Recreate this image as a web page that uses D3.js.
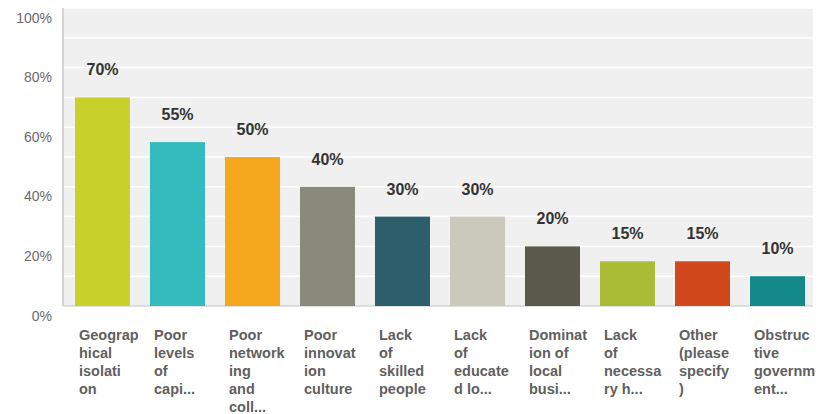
<!DOCTYPE html>
<html>
<head>
<meta charset="utf-8">
<script src="https://cdn.jsdelivr.net/npm/d3@7"></script>
<style>
  html, body { margin: 0; padding: 0; background: #ffffff; }
  svg { display: block; }
</style>
</head>
<body>
<svg id="chart" width="819" height="414"></svg>
<script>
// Survey answers: share of respondents per obstacle
const categories = [
  ["Geograp", "hical", "isolati", "on"],
  ["Poor", "levels", "of", "capi..."],
  ["Poor", "network", "ing", "and", "coll..."],
  ["Poor", "innovat", "ion", "culture"],
  ["Lack", "of", "skilled", "people"],
  ["Lack", "of", "educate", "d lo..."],
  ["Dominat", "ion of", "local", "busi..."],
  ["Lack", "of", "necessa", "ry h..."],
  ["Other", "(please", "specify", ")"],
  ["Obstruc", "tive", "governm", "ent..."]
];
const values = [70, 55, 50, 40, 30, 30, 20, 15, 15, 10];
const barColors = ["#c8d12b", "#34bbbd", "#f5a81e", "#8a8a7b", "#2d5e6c",
                   "#cbc9ba", "#5a594b", "#aabb35", "#d0481b", "#13898b"];
const yTicks = [0, 20, 40, 60, 80, 100];
const gridTicks = [10, 20, 30, 40, 50, 60, 70, 80, 90, 100];

const svg = d3.select("#chart");
const plot = { left: 63, right: 813, top: 8, bottom: 306 };

const x = d3.scaleBand()
  .domain(d3.range(values.length))
  .range([65, 815])
  .paddingInner(20 / 75)
  .paddingOuter(10 / 75);

const y = d3.scaleLinear().domain([0, 100]).range([plot.bottom, plot.top]);

// plot background
svg.append("rect")
  .attr("x", plot.left).attr("y", plot.top)
  .attr("width", plot.right - plot.left).attr("height", plot.bottom - plot.top)
  .attr("fill", "#f0f0f0");

// white gridlines every 10%
svg.append("g").selectAll("line").data(gridTicks).join("line")
  .attr("x1", plot.left).attr("x2", plot.right)
  .attr("y1", d => y(d)).attr("y2", d => y(d))
  .attr("stroke", "#ffffff").attr("stroke-width", 1.5);

// y axis labels
const yAxis = d3.axisLeft(y).tickValues(yTicks).tickFormat(d => d + "%").tickSize(0).tickPadding(11);
const yg = svg.append("g").attr("transform", `translate(${plot.left},0)`).call(yAxis);
yg.select(".domain").remove();
yg.selectAll("text")
  .attr("dy", "1.0em")
  .attr("font-family", "'Liberation Sans', Arial, sans-serif")
  .attr("font-size", 14)
  .attr("fill", "#6a6a6a");

// axis lines
svg.append("line")
  .attr("x1", plot.left).attr("x2", plot.left)
  .attr("y1", plot.top).attr("y2", plot.bottom)
  .attr("stroke", "#d4d4d4").attr("stroke-width", 2);
svg.append("line")
  .attr("x1", plot.left).attr("x2", plot.right)
  .attr("y1", plot.bottom).attr("y2", plot.bottom)
  .attr("stroke", "#d4d4d4").attr("stroke-width", 1.5);

// bars
svg.append("g").selectAll("rect").data(values).join("rect")
  .attr("x", (d, i) => x(i))
  .attr("y", d => y(d))
  .attr("width", x.bandwidth())
  .attr("height", d => y(0) - y(d))
  .attr("fill", (d, i) => barColors[i]);

// value labels
svg.append("g").selectAll("text").data(values).join("text")
  .attr("x", (d, i) => x(i) + x.bandwidth() / 2)
  .attr("y", d => y(d) - 22)
  .attr("text-anchor", "middle")
  .attr("font-family", "'Liberation Sans', Arial, sans-serif")
  .attr("font-weight", "bold")
  .attr("font-size", 16)
  .attr("fill", "#333333")
  .text(d => d + "%");

// category labels, wrapped
const cat = svg.append("g").selectAll("text").data(categories).join("text")
  .attr("x", (d, i) => x(i) + 4)
  .attr("y", 340)
  .attr("font-family", "'Liberation Sans', Arial, sans-serif")
  .attr("font-weight", "bold")
  .attr("font-size", 14.5)
  .attr("fill", "#5f5f5f");
cat.selectAll("tspan").data(d => d).join("tspan")
  .attr("x", function () { return d3.select(this.parentNode).attr("x"); })
  .attr("dy", (d, j) => j === 0 ? 0 : 18)
  .text(d => d);
</script>
</body>
</html>
